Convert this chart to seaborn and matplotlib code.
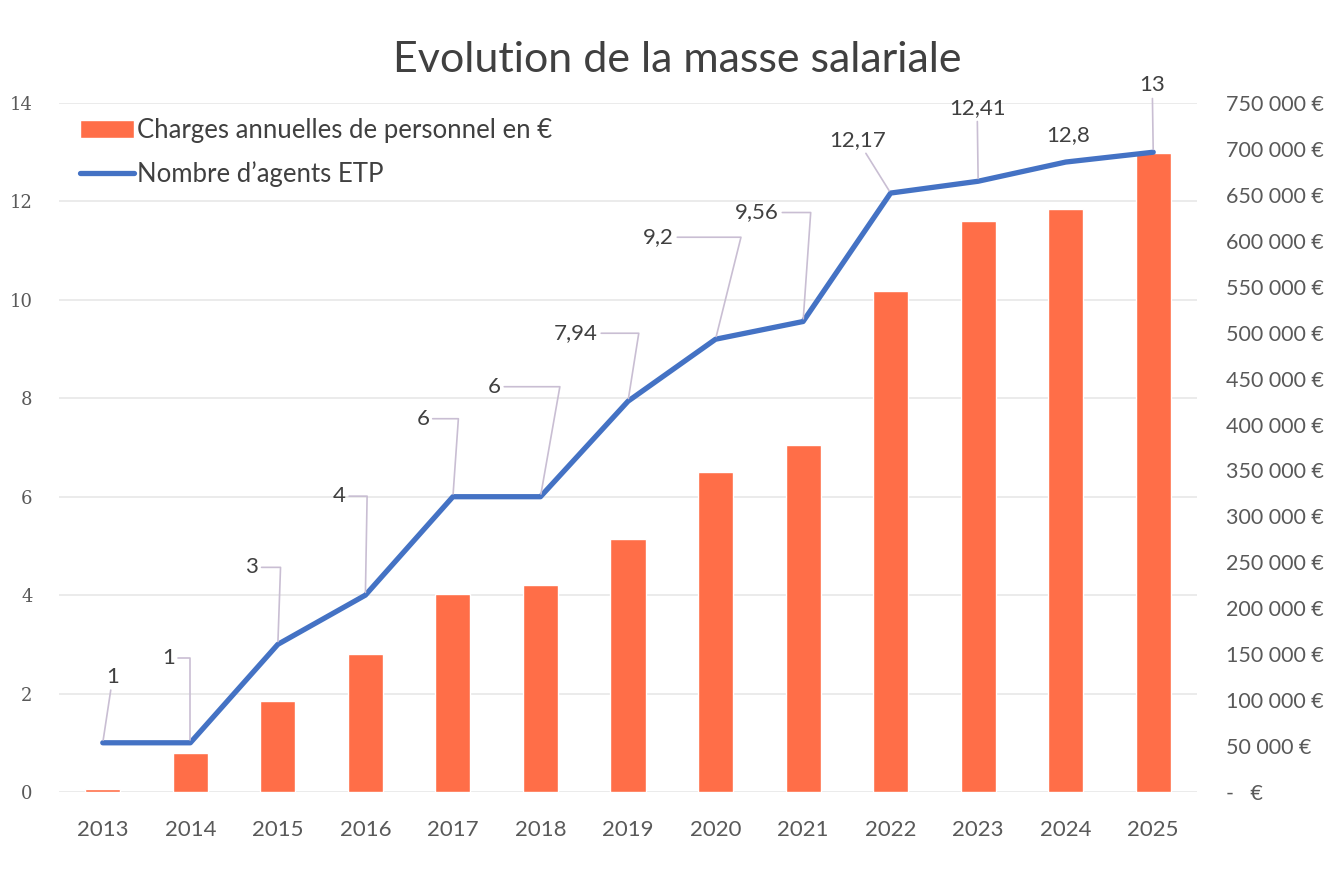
import numpy as np
import pandas as pd
import matplotlib
matplotlib.use("Agg")
import matplotlib.pyplot as plt
import seaborn as sns

# ---- data ----
years = ["2013", "2014", "2015", "2016", "2017", "2018", "2019",
         "2020", "2021", "2022", "2023", "2024", "2025"]
charges = [3000, 42500, 99000, 150000, 215500, 225500, 275500,
           348500, 377500, 545500, 621500, 634500, 695500]
etp = [1, 1, 3, 4, 6, 6, 7.94, 9.2, 9.56, 12.17, 12.41, 12.8, 13]
etp_labels = ["1", "1", "3", "4", "6", "6", "7,94", "9,2", "9,56",
              "12,17", "12,41", "12,8", "13"]
left_ticks = [0, 2, 4, 6, 8, 10, 12, 14]
right_ticks = list(range(0, 750001, 50000))

title = "Evolution de la masse salariale"
bar_label = "Charges annuelles de personnel en \u20ac"
line_label = "Nombre d\u2019agents ETP"

# label offsets (pixels) and leader style
# (dx, dy, connection)  connection: None / "straight" / angleB value
label_style = [
    (10, 66, "straight"), (-22, 85, 90), (-26, 77, 88), (-26, 99, 89),
    (-30, 78, 86), (-46, 110, 80), (-52, 68, 81), (-57, 102, 76),
    (-46, 109, 86), (-33, 53, "straight"), (-1, 73, "straight"),
    (2, 27, None), (-1, 67, "straight"),
]

BAR_COLOR = "#FF6E48"
LINE_COLOR = "#4472C4"
LEADER_COLOR = "#C9BED3"
TEXT_COLOR = "#404040"
TICK_COLOR = "#595959"

sns.set_theme(style="white")
plt.rcParams["font.family"] = ["Lato", "DejaVu Sans"]

df = pd.DataFrame({"year": years, "charges": charges, "etp": etp,
                   "pos": np.arange(len(years))})

fig = plt.figure(figsize=(13.43, 8.90), dpi=100)
fig.patch.set_facecolor("white")
ax = fig.add_axes([59 / 1343, 1 - 792 / 890, (1197 - 59) / 1343, (792 - 103) / 890])
axb = ax.twinx()
axl = ax.twinx()

# bars
sns.barplot(data=df, x="year", y="charges", ax=axb, color=BAR_COLOR,
            width=0.4, saturation=1, label=bar_label)
# line
sns.lineplot(data=df, x="pos", y="etp", ax=axl, color=LINE_COLOR,
             linewidth=3.8, label=line_label)

for a in (ax, axb, axl):
    a.set_xlim(-0.5, len(years) - 0.5)
    for s in a.spines.values():
        s.set_visible(False)
    a.set_xlabel("")
    a.set_ylabel("")

ax.set_ylim(0, 14)
axl.set_ylim(0, 14)
axb.set_ylim(0, 750000)

# grid on base axis
ax.set_yticks(left_ticks)
ax.set_yticklabels([str(t) for t in left_ticks], fontfamily="DejaVu Serif",
                   fontsize=13, color=TICK_COLOR)
ax.tick_params(axis="y", length=0, pad=19)
ax.grid(axis="y", color="#E8E8E8", linewidth=1.2)
ax.grid(axis="x", visible=False)
ax.set_xticks(df["pos"])
ax.set_xticklabels(years, fontsize=16, color=TICK_COLOR)
ax.tick_params(axis="x", length=0, pad=20)

axl.set_yticks([])
axb.grid(False)
axl.grid(False)


def euro(v):
    if v == 0:
        return "-   \u20ac"
    return f"{int(v):,}".replace(",", " ") + " \u20ac"


axb.set_yticks(right_ticks)
axb.set_yticklabels([euro(v) for v in right_ticks], fontsize=15.5, color=TICK_COLOR)
axb.tick_params(axis="y", length=0, pad=21)

# data labels with leader lines
for i, (lab, (dx, dy, conn)) in enumerate(zip(etp_labels, label_style)):
    kw = dict(xy=(df["pos"][i], etp[i]), xytext=(dx, dy),
              textcoords="offset pixels", ha="center", va="center",
              fontsize=16, color=TEXT_COLOR, annotation_clip=False)
    if conn is None:
        axl.annotate(lab, **kw)
    elif conn == "straight":
        axl.annotate(lab, arrowprops=dict(arrowstyle="-", color=LEADER_COLOR,
                                          lw=1.2, shrinkA=0, shrinkB=2), **kw)
    else:
        axl.annotate(lab, arrowprops=dict(
            arrowstyle="-", color=LEADER_COLOR, lw=1.2, shrinkA=0, shrinkB=2,
            connectionstyle=f"angle,angleA=0,angleB={conn},rad=0"), **kw)

# legend
hb, lb = axb.get_legend_handles_labels()
hl, ll = axl.get_legend_handles_labels()
if axb.get_legend():
    axb.get_legend().remove()
if axl.get_legend():
    axl.get_legend().remove()
leg = axl.legend(hb + hl, lb + ll, loc="upper left",
                 bbox_to_anchor=(80 / 1343, 1 - 118 / 890),
                 bbox_transform=fig.transFigure, frameon=False,
                 fontsize=18.5, handlelength=2.1, handletextpad=0.12,
                 labelspacing=0.72, borderaxespad=0, borderpad=0)
for t in leg.get_texts():
    t.set_color(TEXT_COLOR)

fig.text(0.5045, 1 - 60 / 890, title, ha="center", va="center",
         fontsize=31, color=TEXT_COLOR)

fig.savefig("out.png", dpi=100, facecolor="white")
